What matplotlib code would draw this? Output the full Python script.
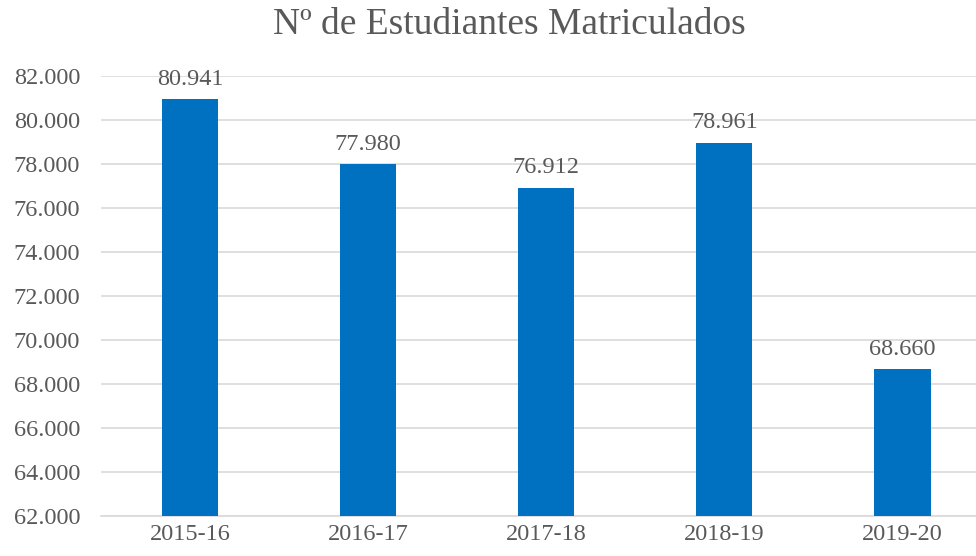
import matplotlib.pyplot as plt
from matplotlib.ticker import FuncFormatter

# data
cursos = ["2015-16", "2016-17", "2017-18", "2018-19", "2019-20"]
matriculados = [80941, 77980, 76912, 78961, 68660]
y_ticks = list(range(62000, 82001, 2000))

def miles(v, pos=None):
    return "{:,.0f}".format(v).replace(",", ".")

plt.rcParams['font.family'] = ['Liberation Serif', 'DejaVu Serif']
text_color = "#595959"
bar_color = "#0070C0"
grid_color = "#D9D9D9"

fig = plt.figure(figsize=(9.76, 5.56), dpi=100)
ax = fig.add_axes([101 / 976, 40 / 556, 875 / 976, 440 / 556])

x = list(range(len(cursos)))
bars = ax.bar(x, matriculados, width=0.315, color=bar_color, zorder=3)

ax.set_ylim(62000, 82000)
ax.set_xlim(-0.5, 4.5 - 15.5 / 178.1)
ax.set_yticks(y_ticks)
ax.yaxis.set_major_formatter(FuncFormatter(miles))
ax.set_xticks(x)
ax.set_xticklabels(cursos)

ax.grid(axis="y", color=grid_color, linewidth=1.2, zorder=0)
for side in ["top", "right", "left"]:
    ax.spines[side].set_visible(False)
ax.spines["bottom"].set_color(grid_color)
ax.spines["bottom"].set_linewidth(1.2)
ax.tick_params(axis="both", length=0, labelsize=17.5, labelcolor=text_color)
ax.tick_params(axis="y", pad=15)
ax.tick_params(axis="x", pad=6)

for b, v in zip(bars, matriculados):
    ax.annotate(miles(v), (b.get_x() + b.get_width() / 2, v),
                xytext=(0, 7), textcoords="offset points",
                ha="center", va="bottom", fontsize=17.5,
                color=text_color, annotation_clip=False)

fig.text(509 / 976, 1 - 25 / 556, "Nº de Estudiantes Matriculados",
         ha="center", va="center", fontsize=27, color=text_color)

fig.savefig("out.png", dpi=100)
